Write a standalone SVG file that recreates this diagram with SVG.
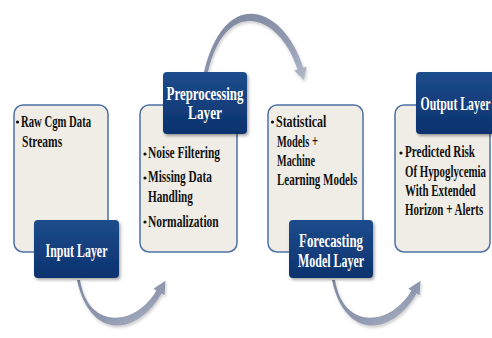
<svg xmlns="http://www.w3.org/2000/svg" width="492" height="338" viewBox="0 0 492 338">
<defs>
<linearGradient id="lbl" x1="0" y1="0" x2="0" y2="1">
<stop offset="0" stop-color="#1d4c8c"/>
<stop offset="1" stop-color="#0c326e"/>
</linearGradient>
<linearGradient id="arr" x1="0" y1="0" x2="1" y2="1">
<stop offset="0" stop-color="#7c869d"/>
<stop offset="0.6" stop-color="#9099b0"/>
<stop offset="1" stop-color="#b2b9ca"/>
</linearGradient>
<filter id="sh" x="-20%" y="-20%" width="150%" height="150%">
<feDropShadow dx="1.5" dy="2" stdDeviation="1.5" flood-color="#000" flood-opacity="0.35"/>
</filter>
<filter id="ash" x="-20%" y="-20%" width="150%" height="150%">
<feDropShadow dx="1" dy="2" stdDeviation="1.5" flood-color="#000" flood-opacity="0.2"/>
</filter>
</defs>
<style>
.box{fill:#efede6;stroke:#4d72a4;stroke-width:1.5}
.lbl{fill:url(#lbl);filter:url(#sh)}
.arrow{fill:url(#arr);filter:url(#ash)}
.t{font-family:"Liberation Serif",serif;font-weight:bold;font-size:17px;fill:#111}
.lt{font-family:"Liberation Serif",serif;font-weight:bold;font-size:19px;fill:#fff;text-anchor:middle}
.b{fill:#111}
</style>
<rect width="492" height="338" fill="#fff"/>
<g id="connectors">
<path class="arrow" d="M77,280 C90,340 136.6,336.8 161.6,293.5 L164.6,295.3 L165.5,280.7 L153.4,288.75 L156.4,290.5 C135.4,326.9 88,330 80,280 Z"/>
<path class="arrow" d="M204,72 C225,-15 283.76,5.64 303.26,67.65 L306.6,66.6 L304,80 L294.2,70.5 L297.54,69.45 C280.1,14.1 226,-5 208,72 Z"/>
<path class="arrow" d="M332,280 C345,340 391.6,336.8 416.6,293.5 L419.6,295.3 L420.5,280.7 L408.4,288.75 L411.4,290.5 C390.4,326.9 343,330 335,280 Z"/>
</g>
<g id="input-box">
<rect class="box" x="14" y="105" width="94" height="147" rx="9"/>
<circle class="b" cx="17.5" cy="122" r="1.6"/>
<text class="t" transform="translate(21,127) scale(0.68,1)" textLength="103" lengthAdjust="spacingAndGlyphs">Raw Cgm Data</text>
<text class="t" transform="translate(22,147) scale(0.68,1)" textLength="59" lengthAdjust="spacingAndGlyphs">Streams</text>
</g>
<g id="preprocessing-box">
<rect class="box" x="140" y="105" width="97" height="147" rx="9"/>
<circle class="b" cx="145" cy="154" r="1.6"/>
<text class="t" transform="translate(148,158) scale(0.68,1)" textLength="106" lengthAdjust="spacingAndGlyphs">Noise Filtering</text>
<circle class="b" cx="145" cy="178" r="1.6"/>
<text class="t" transform="translate(148,182) scale(0.68,1)" textLength="94" lengthAdjust="spacingAndGlyphs">Missing Data</text>
<text class="t" transform="translate(148,202) scale(0.68,1)" textLength="66" lengthAdjust="spacingAndGlyphs">Handling</text>
<circle class="b" cx="145" cy="222" r="1.6"/>
<text class="t" transform="translate(148,227) scale(0.68,1)" textLength="104" lengthAdjust="spacingAndGlyphs">Normalization</text>
</g>
<g id="forecasting-box">
<rect class="box" x="268" y="105" width="95" height="147" rx="9"/>
<circle class="b" cx="272.5" cy="122" r="1.6"/>
<text class="t" transform="translate(276,127) scale(0.68,1)" textLength="74" lengthAdjust="spacingAndGlyphs">Statistical</text>
<text class="t" transform="translate(277,147) scale(0.68,1)" textLength="60" lengthAdjust="spacingAndGlyphs">Models +</text>
<text class="t" transform="translate(277,166) scale(0.68,1)" textLength="56" lengthAdjust="spacingAndGlyphs">Machine</text>
<text class="t" transform="translate(277,185) scale(0.68,1)" textLength="118" lengthAdjust="spacingAndGlyphs">Learning Models</text>
</g>
<g id="output-box">
<rect class="box" x="395" y="105" width="95" height="147" rx="9"/>
<circle class="b" cx="401" cy="153" r="1.6"/>
<text class="t" transform="translate(405,157) scale(0.68,1)" textLength="103" lengthAdjust="spacingAndGlyphs">Predicted Risk</text>
<text class="t" transform="translate(405,177) scale(0.68,1)" textLength="119" lengthAdjust="spacingAndGlyphs">Of Hypoglycemia</text>
<text class="t" transform="translate(405,196) scale(0.68,1)" textLength="104" lengthAdjust="spacingAndGlyphs">With Extended</text>
<text class="t" transform="translate(405,215) scale(0.68,1)" textLength="115" lengthAdjust="spacingAndGlyphs">Horizon + Alerts</text>
</g>
<g id="input-layer">
<rect class="lbl" x="34" y="220" width="85" height="58" rx="4"/>
<text class="lt" transform="translate(76.5,257) scale(0.68,1)" textLength="91" lengthAdjust="spacingAndGlyphs">Input Layer</text>
</g>
<g id="preprocessing-layer">
<rect class="lbl" x="163" y="72" width="84" height="62" rx="4"/>
<text class="lt" transform="translate(205,100) scale(0.68,1)" textLength="113" lengthAdjust="spacingAndGlyphs">Preprocessing</text>
<text class="lt" transform="translate(205,119) scale(0.68,1)" textLength="50" lengthAdjust="spacingAndGlyphs">Layer</text>
</g>
<g id="forecasting-layer">
<rect class="lbl" x="289" y="220" width="84" height="58" rx="4"/>
<text class="lt" transform="translate(331,247) scale(0.68,1)" textLength="94" lengthAdjust="spacingAndGlyphs">Forecasting</text>
<text class="lt" transform="translate(331,267) scale(0.68,1)" textLength="97" lengthAdjust="spacingAndGlyphs">Model Layer</text>
</g>
<g id="output-layer">
<rect class="lbl" x="416" y="72" width="92" height="62" rx="4"/>
<text class="lt" transform="translate(455.5,110) scale(0.64,1)" textLength="109" lengthAdjust="spacingAndGlyphs">Output Layer</text>
</g>
</svg>
